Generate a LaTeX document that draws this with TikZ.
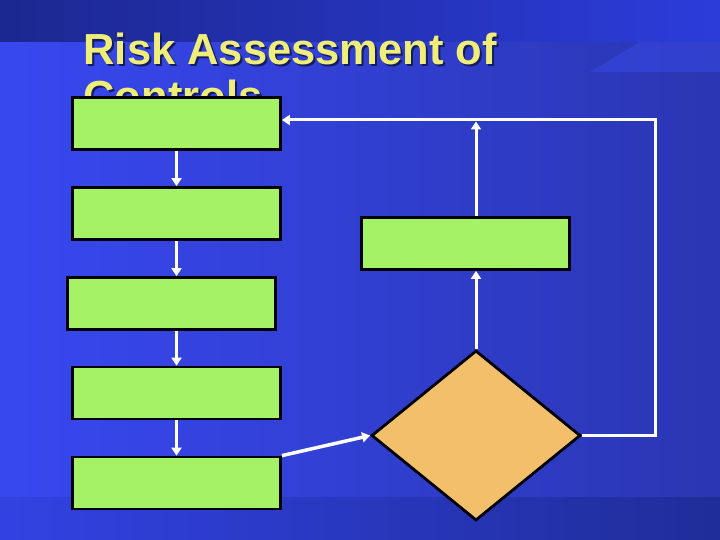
\documentclass[tikz,border=0pt]{standalone}
\usepackage{fontspec}
\setmainfont{Liberation Sans}
\usetikzlibrary{arrows.meta,calc,positioning,shapes.geometric}
\definecolor{boxgreen}{HTML}{A6F266}
\definecolor{decisionfill}{HTML}{F3BF6B}
\definecolor{titleyellow}{HTML}{EEEE78}
\definecolor{titleshadow}{HTML}{141C5E}
\definecolor{streak}{HTML}{3A4AEA}
\tikzset{stage box/.style={draw=black,
    line width=2.8pt,
    fill=boxgreen,
    minimum width=#1,
    minimum height=52pt,
    inner sep=0pt
  },
  stage box/.default=208pt,
  decision/.style={diamond,
    draw=black,
    line width=2.8pt,
    fill=decisionfill,
    minimum width=209pt,
    minimum height=170pt,
    inner sep=0pt
  },
  flow/.style={draw=white, line width=3pt,
    -{Triangle[length=8pt,width=10pt]}},
  slide title/.style={anchor=base west,
    font=\bfseries\fontsize{43.5}{47}\selectfont
  }
}

\begin{document}
\begin{tikzpicture}[x=1pt,y=-1pt]
    \useasboundingbox (0,0) rectangle (720,540);
    % slide background
    \shade[left color={rgb,255:red,56;green,72;blue,240}, right color={rgb,255:red,42;green,54;blue,178}]
        (0,42) rectangle (720,497);
    \shade[left color={rgb,255:red,28;green,40;blue,144}, right color={rgb,255:red,44;green,60;blue,218}]
        (0,0) rectangle (720,42);
    \shade[left color={rgb,255:red,50;green,66;blue,226}, right color={rgb,255:red,31;green,45;blue,153}]
        (0,497) rectangle (720,540);
    \fill[streak, opacity=0.5] (590,72) -- (640,42) -- (720,42) -- (720,72) -- cycle;

    \node[slide title, text=titleshadow] at (82,67) {Risk Assessment of};
    \node[slide title, text=titleshadow] at (82,114) {Controls};
    \node[slide title, text=titleyellow] (title) at (80,65) {Risk Assessment of};
    \node[slide title, text=titleyellow] (title2) at (80,112) {Controls};

    \node[stage box] (b1) at (176.5,123.5) {};
    \node[stage box] (b2) at (176.5,213.5) {};
    \node[stage box] (b3) at (171.5,303.5) {};
    \node[stage box] (b4) at (176.5,393) {};
    \node[stage box] (b5) at (176.5,483) {};
    \node[stage box] (r) at (465.5,243.5) {};
    \node[decision] (d) at (476,435.5) {};
    \coordinate (loop) at (655,120);

    \draw[flow] (b1.south) -- (b2.north);
    \draw[flow] (b2.south) -- (b2.south |- b3.north);
    \draw[flow] (b3.south -| b4.north) -- (b4.north);
    \draw[flow] (b4.south) -- (b5.north);
    \draw[flow, line width=3.5pt] (b5.north east) -- (d.west);
    \draw[flow] (d.north) -- (d.north |- r.south);
    \draw[flow, shorten >=1.5pt] (r.north -| d.north) -- (d.north |- loop);
    \draw[flow] (d.east) -| (loop) -- (loop -| b1.east);
\end{tikzpicture}
\end{document}
